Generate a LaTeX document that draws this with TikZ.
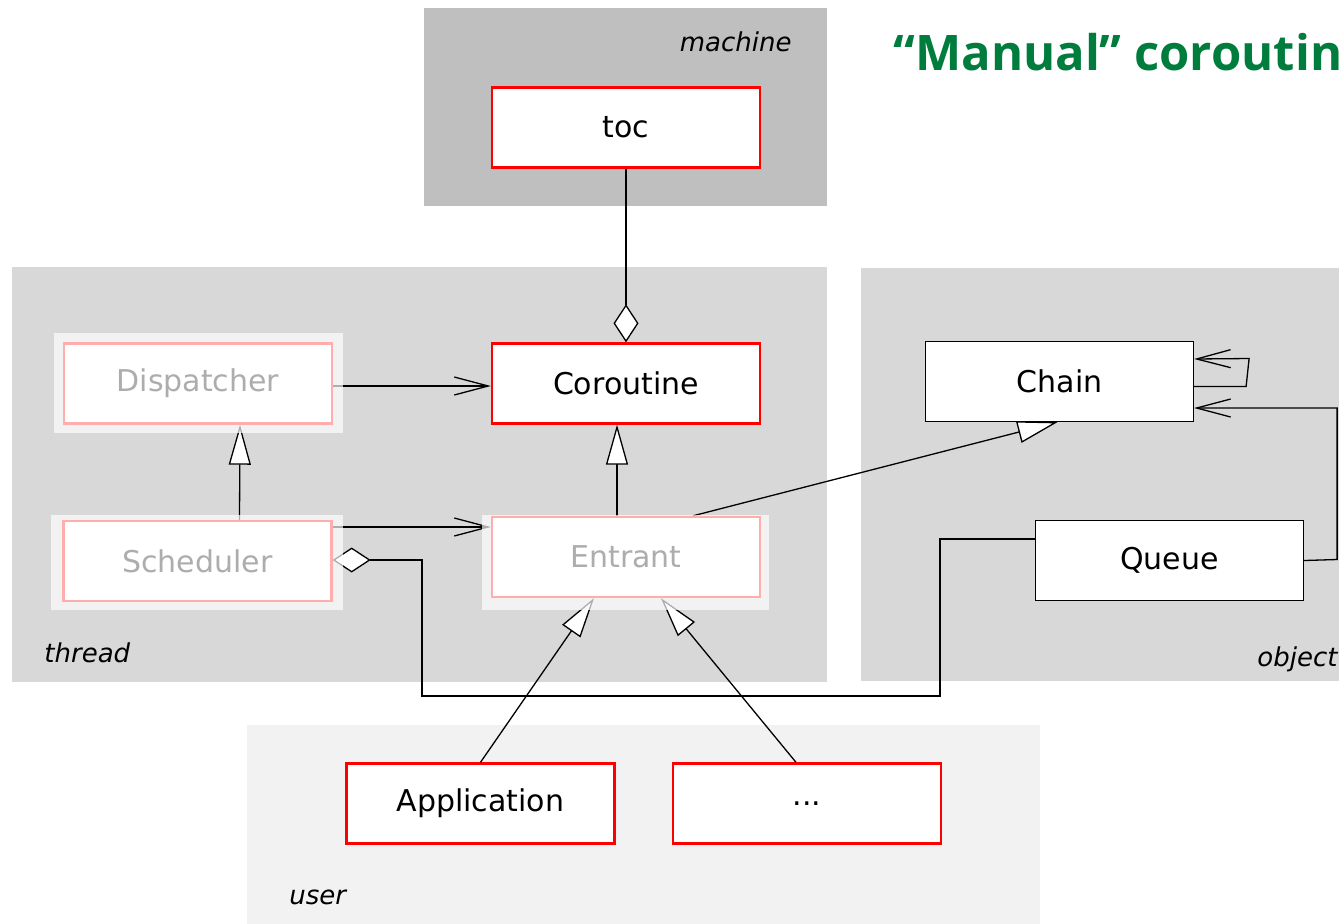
\documentclass[tikz,border=0pt]{standalone}
\usepackage{fontspec}
\setmainfont{DejaVu Sans}
\newfontfamily\titlefont{Open Sans}
\usetikzlibrary{arrows.meta}

\definecolor{machinebg}{RGB}{191,191,191}
\definecolor{threadbg}{RGB}{216,216,216}
\definecolor{userbg}{RGB}{242,242,242}
\definecolor{titlegreen}{RGB}{0,125,60}

\begin{document}
\begin{tikzpicture}[x=0.5pt,y=-0.5pt,%
					cls/.style={draw=red,line width=1.2pt,fill=white,minimum width=134pt,minimum height=40pt,inner sep=0pt,font=\fontsize{15}{18}\selectfont},%
					obj/.style={cls,draw=black,line width=0.6pt},%
					pkglabel/.style={inner sep=0pt,font=\fontsize{13}{16}\selectfont\itshape},%
					assoc/.style={-{Straight Barb[length=17pt,width=9pt]},line width=0.65pt},%
					gen/.style={-{Triangle[fill=white,length=20pt,width=11pt]},line width=0.65pt},%
					aggr/.style={-{Diamond[fill=white,length=19pt,width=12.5pt]},line width=0.65pt},%
					aggrstart/.style={{Diamond[fill=white,length=19pt,width=12.5pt]}-,line width=0.65pt},%
					fade/.style={fill=white,opacity=0.68}]
\useasboundingbox (0,0) rectangle (1339,923);

% packages
\fill[machinebg] (424,8) rectangle (827,206);
\fill[threadbg] (12,267) rectangle (827,682);
\fill[threadbg] (861,268) rectangle (1345,681);
\fill[userbg] (247,725) rectangle (1040,930);

\node[pkglabel,anchor=base east] (machinelbl) at (792,51) {machine};
\node[pkglabel,anchor=base west] (threadlbl) at (44,662) {thread};
\node[pkglabel,anchor=base west] (objectlbl) at (1257,666) {object};
\node[pkglabel,anchor=base west] (userlbl) at (289,904) {user};

\node[anchor=base west,inner sep=0pt,text=titlegreen,font=\titlefont\bfseries\fontsize{24.5}{30}\selectfont] (title) at (893,70) {“Manual” coroutines};

% classes
\foreach \name/\x/\y/\txt in {toc/626/127.5/toc,coroutine/626/383.5/Coroutine,dispatcher/198/383.5/Dispatcher,scheduler/197.5/561/Scheduler,entrant/626/557/Entrant,application/480.5/803.5/Application}
	\node[cls] (\name) at (\x,\y) {\txt};
\node[cls] (others) at (807,803.5) {...};

\node[obj] (chain) at (1059.5,381.5) {Chain};
\node[obj] (queue) at (1169.5,560.5) {Queue};

% relations
\draw[aggr] (toc.south) -- (coroutine.north);
\draw[assoc] ([yshift=-1.25pt]dispatcher.east) -- ([yshift=-1.25pt]coroutine.west);
\draw[gen] ([xshift=21pt]scheduler.north) -- ([xshift=21pt]dispatcher.south);
\draw[gen] ([xshift=-4.5pt]entrant.north) -- ([xshift=-4.5pt]coroutine.south);
\draw[assoc] ([yshift=17pt]scheduler.east) -- ([yshift=17pt]scheduler.east -| entrant.west);
\draw[gen] ([xshift=33.5pt]entrant.north) -- ([xshift=-1pt]chain.south);

\coordinate (qin) at ([yshift=10.75pt]queue.west);
\draw[aggrstart] ([yshift=0.5pt]scheduler.east) -| (422,696) -| (940,539) -- (qin);

\draw[assoc] ([yshift=-2.5pt]chain.east) -- ++(52,0) -- ++(3,-28) -- ([yshift=11.25pt]chain.east);
\draw[assoc] (queue.east) -- ++(33,-1) |- ([yshift=-13.25pt]chain.east);

\draw[gen] (application.north) -- ([xshift=-16pt]entrant.south);
\draw[gen] ([xshift=-5.5pt]others.north) -- ([xshift=17.5pt]entrant.south);

% faded classes
\fill[fade] ([shift={(-9,-9)}]dispatcher.north west) rectangle ([shift={(10,8)}]dispatcher.south east);
\fill[fade] ([shift={(-11,-5)}]scheduler.north west) rectangle ([shift={(10,8)}]scheduler.south east);
\fill[fade] ([shift={(-9,-1)}]entrant.north west) rectangle ([shift={(8,12)}]entrant.south east);

\end{tikzpicture}
\end{document}
